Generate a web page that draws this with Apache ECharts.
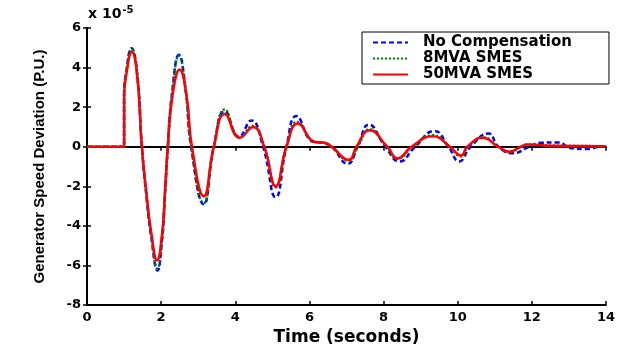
<!DOCTYPE html>
<html>
<head>
<meta charset="utf-8">
<script src="https://cdn.jsdelivr.net/npm/echarts@6/dist/echarts.min.js"></script>
<style>
  html, body { margin: 0; padding: 0; background: #fff; }
  #main { width: 618px; height: 351px; }
</style>
</head>
<body>
<div id="main"></div>
<script>
// time (s) and speed deviation (x 1e-5 p.u.)
var tNoComp = [0, 0.98, 1.0, 1.0, 1.06, 1.2, 1.35, 1.48, 1.62, 1.73, 1.9, 2.03, 2.09, 2.18, 2.3, 2.48, 2.66, 2.81, 3.15, 3.42, 3.72, 4.1, 4.43, 4.75, 5.09, 5.38, 5.65, 6.1, 6.35, 6.6, 7.03, 7.3, 7.6, 8.05, 8.43, 8.85, 9.37, 9.75, 10.04, 10.35, 10.83, 11.1, 11.48, 11.93, 12.24, 12.74, 13.0, 13.45, 13.9, 14];
var vNoComp = [0, 0, 0, 2.6, 3.8, 4.98, 3.75, 0, -2.8, -4.5, -6.25, -4.6, -2.9, 0, 2.8, 4.65, 2.9, 0, -2.9, 0, 1.8, 0.5, 1.33, 0, -2.55, 0, 1.55, 0.25, 0.2, 0, -0.86, 0, 1.12, 0, -0.74, 0, 0.8, 0, -0.74, 0, 0.67, 0, -0.33, 0, 0.2, 0.22, -0.05, -0.11, 0, 0];

var tSmes8 = [0, 0.98, 1.0, 1.0, 1.06, 1.2, 1.35, 1.48, 1.62, 1.73, 1.9, 2.03, 2.09, 2.18, 2.3, 2.48, 2.66, 2.81, 3.15, 3.42, 3.72, 4.12, 4.46, 4.78, 5.09, 5.38, 5.67, 6.14, 6.4, 6.6, 7.06, 7.3, 7.62, 8.08, 8.38, 8.78, 9.33, 9.78, 10.08, 10.28, 10.7, 11.08, 11.4, 11.7, 11.9, 12.5, 14];
var vSmes8 = [0, 0, 0, 2.6, 3.75, 4.92, 3.7, 0, -2.75, -4.45, -6.15, -4.55, -2.85, 0, 2.75, 4.6, 2.85, 0, -2.85, 0, 1.88, 0.48, 1.05, 0, -2.05, 0, 1.25, 0.25, 0.2, 0, -0.7, 0, 0.88, 0, -0.6, 0, 0.58, 0, -0.48, 0, 0.47, 0, -0.27, 0, 0.12, 0.05, 0.03];

var tSmes50 = [0, 0.98, 1.0, 1.0, 1.06, 1.21, 1.35, 1.48, 1.62, 1.73, 1.89, 2.03, 2.09, 2.18, 2.3, 2.5, 2.69, 2.83, 3.15, 3.42, 3.72, 4.12, 4.48, 4.78, 5.09, 5.38, 5.69, 6.14, 6.4, 6.6, 7.06, 7.27, 7.62, 8.1, 8.38, 8.75, 9.33, 9.79, 10.09, 10.26, 10.67, 11.1, 11.39, 11.7, 11.88, 12.5, 14];
var vSmes50 = [0, 0, 0, 2.5, 3.66, 4.8, 3.66, 0, -2.65, -4.3, -5.73, -4.3, -2.65, 0, 2.5, 3.9, 2.5, 0, -2.5, 0, 1.66, 0.45, 1.0, 0, -1.99, 0, 1.17, 0.25, 0.2, 0, -0.66, 0, 0.83, 0, -0.58, 0, 0.53, 0, -0.44, 0, 0.45, 0, -0.25, 0, 0.12, 0.05, 0.03];

var FONT = 'DejaVu Sans';
var myChart = echarts.init(document.getElementById('main'));

function pairs(t, v) {
    return t.map(function (x, i) { return [x, v[i]]; });
}

var boxAxis = {
    axisLine: { show: true, lineStyle: { color: '#000', width: 2 } },
    axisTick: { show: true, inside: true, length: 4, lineStyle: { color: '#000', width: 1.5 } },
    axisLabel: { show: false },
    splitLine: { show: false }
};

function curve(name, color, type, t, v) {
    return {
        name: name,
        type: 'line',
        smooth: 0.5,
        symbol: 'none',
        lineStyle: { color: color, width: 2.5, type: type },
        itemStyle: { color: color },
        data: pairs(t, v)
    };
}

option = {
    animation: false,
    backgroundColor: '#fff',
    grid: { left: 87, right: 11, top: 28, bottom: 42 },
    legend: {
        orient: 'vertical',
        left: 362,
        top: 32,
        padding: [3, 37, 2, 10],
        itemGap: 1,
        itemWidth: 35,
        itemHeight: 12,
        itemStyle: { opacity: 0 },
        lineStyle: { width: 2 },
        backgroundColor: '#fff',
        borderColor: '#000',
        borderWidth: 1,
        textStyle: { fontFamily: FONT, fontWeight: 'bold', fontSize: 15, color: '#000', padding: [0, 0, 0, 10] },
        data: ['No Compensation', '8MVA SMES', '50MVA SMES']
    },
    graphic: [{
        type: 'text',
        left: 88,
        top: 5,
        style: {
            text: 'x 10{s|-5}',
            font: 'bold 14px ' + FONT,
            fill: '#000',
            rich: { s: { fontSize: 10, fontWeight: 'bold', fontFamily: FONT, verticalAlign: 'top', padding: [0, 0, 8, 1] } }
        }
    }],
    xAxis: [{
        type: 'value',
        min: 0, max: 14, interval: 2,
        name: 'Time (seconds)',
        nameLocation: 'middle',
        nameGap: 22,
        nameTextStyle: { fontFamily: FONT, fontWeight: 'bold', fontSize: 17, color: '#000' },
        axisLine: { show: true, onZero: false, lineStyle: { color: '#000', width: 2 } },
        axisTick: { show: true, inside: true, length: 4, lineStyle: { color: '#000', width: 1.5 } },
        axisLabel: { fontFamily: FONT, fontWeight: 'bold', fontSize: 13, color: '#000', margin: 6 },
        splitLine: { show: false }
    }, Object.assign({ type: 'value', position: 'top', min: 0, max: 14, interval: 2 }, boxAxis)],
    yAxis: [{
        type: 'value',
        min: -8, max: 6, interval: 2,
        name: 'Generator Speed Deviation (P.U.)',
        nameLocation: 'middle',
        nameGap: 40,
        nameTextStyle: { fontFamily: 'Liberation Sans', fontWeight: 'bold', fontSize: 15, color: '#000' },
        axisLine: { show: true, onZero: false, lineStyle: { color: '#000', width: 2 } },
        axisTick: { show: true, inside: true, length: 4, lineStyle: { color: '#000', width: 1.5 } },
        axisLabel: { fontFamily: FONT, fontWeight: 'bold', fontSize: 13, color: '#000', margin: 6 },
        splitLine: { show: false }
    }, Object.assign({ type: 'value', position: 'right', min: -8, max: 6, interval: 2 }, boxAxis)],
    series: [
        curve('No Compensation', '#0000ff', [5, 3], tNoComp, vNoComp),
        curve('8MVA SMES', '#008000', [2, 2], tSmes8, vSmes8),
        curve('50MVA SMES', '#ff0000', 'solid', tSmes50, vSmes50)
    ]
};

myChart.setOption(option);
</script>
</body>
</html>
